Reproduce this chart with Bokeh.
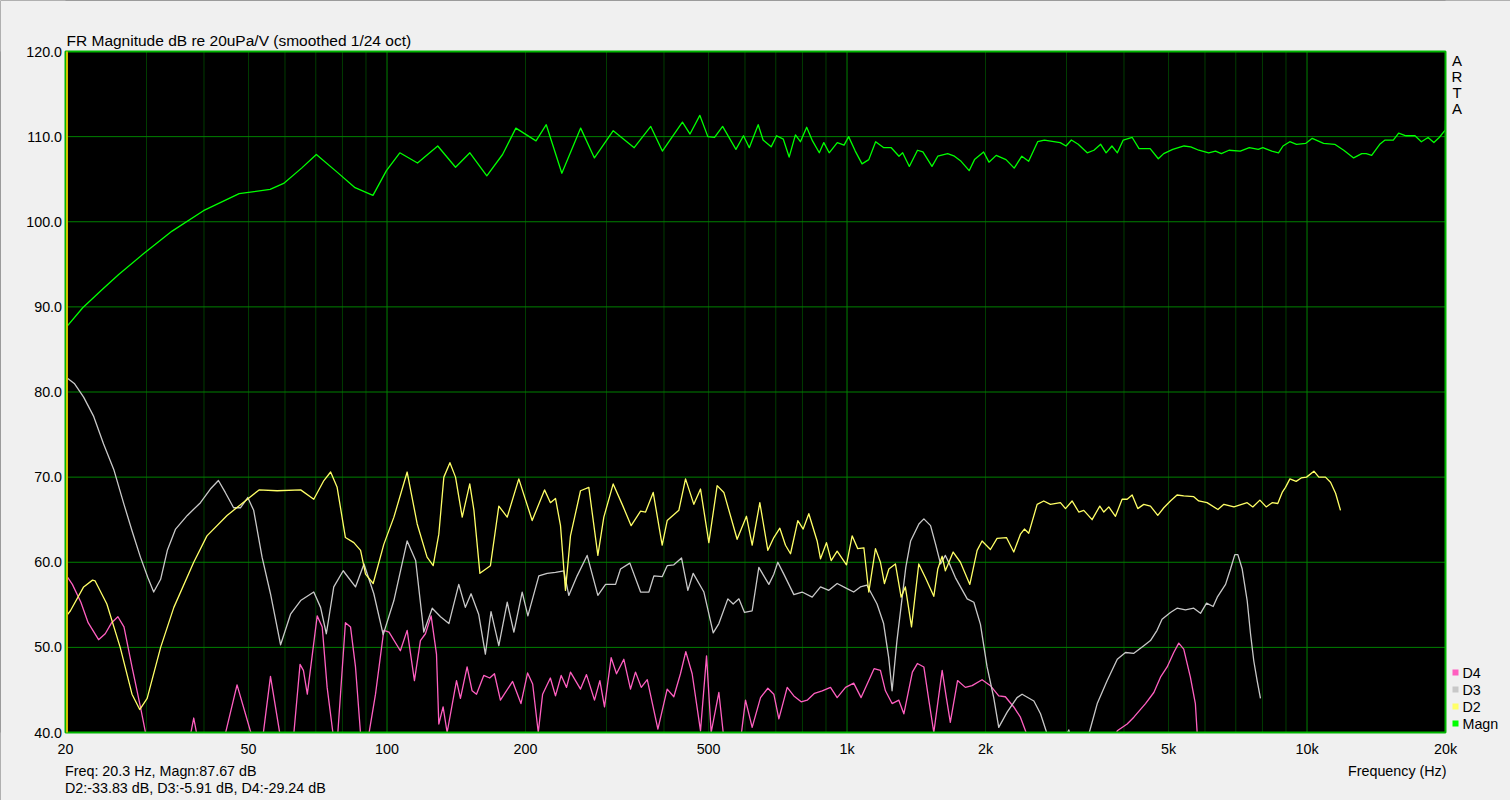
from bokeh.plotting import figure
from bokeh.models import Range1d, Grid, Label, BoxAnnotation
from bokeh.embed import file_html
from bokeh.resources import INLINE

FONT = "Liberation Sans"

# ---------------- data ----------------
title_text = "FR Magnitude dB re 20uPa/V (smoothed 1/24 oct)"
x_ticks = [20, 50, 100, 200, 500, 1000, 2000, 5000, 10000, 20000]
x_tick_labels = ["20", "50", "100", "200", "500", "1k", "2k", "5k", "10k", "20k"]
x_decades = [100, 1000, 10000]
y_ticks = [40, 50, 60, 70, 80, 90, 100, 110, 120]
y_tick_labels = ["40.0", "50.0", "60.0", "70.0", "80.0", "90.0", "100.0", "110.0", "120.0"]
legend_names = ["D4", "D3", "D2", "Magn"]
cursor_freq = 20.15
info_line1 = "Freq: 20.3 Hz, Magn:87.67 dB"
info_line2 = "D2:-33.83 dB, D3:-5.91 dB, D4:-29.24 dB"
x_title = "Frequency (Hz)"

magn_f = [20.0, 21.8, 24.1, 26.1, 29.5, 34.1, 39.9, 47.7, 55.7, 59.6,
          65.2, 70.2, 78.0, 85.2, 93.2, 99.7, 106.6, 116.5, 128.9, 140.9,
          151.4, 164.8, 178.3, 190.6, 210.8, 221.9, 239.9, 263.6, 282.4, 310.3,
          344.6, 374.4, 396.8, 438.7, 455.7, 478.6, 498.2, 515.2, 536.5, 573.4,
          595.6, 613.1, 641.0, 656.9, 684.0, 702.8, 727.0, 748.4, 772.4, 791.9,
          817.2, 841.3, 870.4, 890.2, 914.5, 952.4, 985.3, 1008, 1042, 1078,
          1115, 1154, 1202, 1248, 1297, 1321, 1366, 1423, 1462, 1530,
          1575, 1655, 1712, 1770, 1843, 1893, 1981, 2035, 2110, 2216,
          2309, 2399, 2482, 2597, 2685, 2907, 2993, 3074, 3181, 3328,
          3441, 3560, 3658, 3766, 3870, 3985, 4169, 4313, 4560, 4750,
          4880, 5106, 5402, 5587, 5818, 6113, 6325, 6513, 6766, 7160,
          7491, 7835, 8014, 8384, 8671, 8867, 9174, 9488, 9929, 10264,
          10862, 11487, 12018, 12628, 13150, 13450, 13820, 14390, 14780, 15400,
          15820, 16410, 17170, 17720, 18330, 18870, 19380, 19990, 20000]
magn_db = [87.5, 89.9, 92.1, 93.8, 96.2, 98.9, 101.3, 103.3, 103.8, 104.5,
           106.3, 107.9, 105.8, 104.0, 103.1, 106.0, 108.1, 106.9, 108.9, 106.4,
           108.1, 105.4, 107.9, 111.0, 109.5, 111.4, 105.7, 111.0, 107.5, 110.7,
           108.7, 111.2, 108.3, 111.7, 110.3, 112.5, 110.0, 109.9, 111.2, 108.5,
           110.1, 108.7, 111.4, 109.6, 108.8, 110.1, 109.7, 107.6, 110.2, 109.4,
           111.1, 109.5, 108.1, 109.3, 108.1, 109.3, 109.0, 110.0, 108.3, 106.8,
           107.3, 109.4, 108.7, 108.7, 107.7, 108.1, 106.5, 108.4, 108.2, 106.5,
           107.7, 108.0, 107.7, 107.1, 106.0, 107.3, 108.2, 107.0, 107.8, 107.3,
           106.3, 107.7, 107.1, 109.4, 109.6, 109.3, 108.9, 109.6, 109.1, 108.1,
           108.4, 109.1, 108.1, 108.9, 108.1, 109.6, 109.9, 108.6, 108.6, 107.4,
           108.0, 108.5, 108.9, 108.8, 108.4, 108.1, 108.3, 108.0, 108.4, 108.3,
           108.7, 108.5, 108.7, 108.3, 108.1, 108.9, 109.4, 109.1, 109.2, 109.8,
           109.2, 109.1, 108.4, 107.5, 108.0, 108.0, 107.8, 109.1, 109.6, 109.6,
           110.4, 110.1, 110.1, 109.4, 109.9, 109.3, 109.9, 110.8, 111.9]

d2_f = [20.1, 20.5, 21.9, 22.9, 23.2, 24.6, 26.3, 27.9, 29.0, 30.1,
        32.2, 34.4, 38.0, 40.6, 44.9, 49.7, 52.7, 57.7, 64.9, 69.3,
        72.9, 75.4, 77.9, 81.2, 84.7, 87.6, 89.8, 93.3, 98.4, 103.5,
        110.6, 116.3, 122.2, 126.0, 129.6, 132.9, 137.0, 140.9, 145.7, 151.3,
        154.5, 159.2, 167.8, 175.0, 182.5, 193.4, 206.8, 220.0, 226.6, 232.4,
        238.3, 244.3, 250.5, 263.4, 274.6, 287.3, 296.0, 310.2, 324.5, 339.4,
        355.8, 364.8, 379.0, 396.4, 406.5, 430.9, 445.6, 464.5, 480.3, 500.7,
        522.0, 539.8, 576.9, 604.5, 622.0, 646.3, 672.8, 693.2, 714.4, 734.9,
        753.6, 781.7, 802.9, 825.9, 861.0, 875.7, 902.2, 923.7, 951.8, 997.2,
        1026, 1055, 1088, 1115, 1153, 1182, 1206, 1233, 1274, 1311,
        1339, 1381, 1432, 1480, 1544, 1575, 1610, 1636, 1701, 1764,
        1849, 1918, 1966, 2050, 2119, 2221, 2304, 2382, 2430, 2483,
        2590, 2677, 2768, 2910, 2985, 3085, 3190, 3271, 3410, 3544,
        3616, 3707, 3833, 3963, 4064, 4167, 4286, 4417, 4567, 4737,
        4882, 5047, 5217, 5395, 5672, 5815, 6064, 6402, 6596, 6936,
        7411, 7623, 7898, 8151, 8397, 8638, 8831, 8978, 9178, 9471,
        9712, 9976, 10351, 10609, 10967, 11249, 11537, 11824]
d2_db = [53.7, 54.3, 57.1, 57.9, 57.8, 55.1, 50.0, 44.5, 42.7, 44.0,
         50.0, 54.7, 60.0, 63.1, 65.5, 67.4, 68.5, 68.4, 68.5, 67.4,
         69.6, 70.6, 68.8, 62.9, 62.3, 61.4, 58.6, 57.5, 62.1, 65.3,
         70.6, 64.5, 60.6, 59.6, 63.3, 70.0, 71.7, 70.0, 65.3, 69.2,
         66.1, 58.7, 59.6, 66.6, 65.3, 69.8, 64.9, 68.5, 67.0, 67.5,
         64.3, 56.7, 63.1, 68.4, 68.8, 60.8, 65.3, 69.2, 66.8, 64.3,
         66.0, 65.9, 68.2, 62.0, 64.9, 66.1, 69.8, 66.8, 68.6, 62.3,
         69.0, 68.2, 62.7, 65.4, 62.0, 67.0, 61.4, 62.9, 64.0, 62.0,
         61.0, 64.9, 63.9, 65.7, 62.5, 60.4, 62.3, 60.2, 61.3, 59.7,
         63.1, 61.6, 61.7, 56.5, 61.6, 60.0, 57.5, 59.2, 59.8, 55.9,
         57.1, 52.4, 59.8, 58.2, 56.0, 59.2, 60.7, 59.0, 61.2, 60.0,
         57.4, 61.4, 62.5, 61.5, 62.8, 62.9, 61.2, 63.3, 63.9, 63.4,
         66.8, 67.2, 66.8, 67.0, 66.3, 67.2, 65.9, 66.1, 65.0, 66.6,
         65.9, 66.5, 65.4, 67.4, 67.4, 67.9, 66.3, 66.8, 66.6, 65.5,
         66.4, 67.2, 67.9, 67.8, 67.7, 67.2, 67.0, 66.2, 66.8, 66.5,
         67.0, 66.5, 67.3, 66.5, 67.0, 66.9, 68.2, 68.8, 69.8, 69.5,
         69.9, 70.0, 70.7, 70.0, 70.0, 69.4, 68.1, 66.1]

d3_f = [20.0, 20.9, 21.9, 23.0, 24.2, 25.5, 26.8, 27.9, 29.1, 30.2,
        31.1, 32.2, 33.3, 34.7, 36.8, 39.3, 41.3, 43.0, 44.5, 46.4,
        48.0, 49.8, 51.3, 53.5, 55.8, 58.7, 61.7, 64.9, 69.3, 71.7,
        73.8, 76.6, 80.3, 85.4, 89.1, 93.6, 98.1, 103.5, 110.6, 115.4,
        120.2, 125.4, 130.7, 136.3, 143.2, 148.0, 152.3, 158.2, 163.6, 168.3,
        175.0, 182.5, 188.7, 196.7, 202.4, 213.8, 222.9, 232.4, 242.3, 248.4,
        259.0, 272.3, 287.3, 298.6, 313.9, 321.8, 337.2, 355.8, 370.9, 380.3,
        396.4, 406.5, 420.2, 436.7, 450.8, 463.0, 488.5, 511.8, 526.5, 550.7,
        565.6, 582.0, 598.7, 622.0, 643.1, 659.4, 676.2, 693.2, 707.2, 728.8,
        766.3, 798.7, 840.0, 875.7, 913.0, 951.8, 1000, 1034, 1069, 1105,
        1162, 1201, 1232, 1253, 1284, 1342, 1375, 1433, 1469, 1519,
        1558, 1597, 1636, 1677, 1720, 1825, 1887, 1950, 2016, 2084,
        2137, 2229, 2342, 2402, 2548, 2634, 2724, 2870, 3034, 3150,
        3354, 3499, 3678, 3868, 4030, 4203, 4417, 4567, 4720, 4840,
        5047, 5217, 5440, 5672, 5868, 6047, 6251, 6381, 6651, 6818,
        6967, 7074, 7229, 7411, 7536, 7661, 7790, 7921]
d3_db = [81.8, 81.0, 79.4, 77.2, 73.9, 70.8, 66.8, 63.7, 60.6, 58.2,
         56.5, 58.0, 61.4, 63.9, 65.5, 67.0, 68.6, 69.6, 68.2, 66.4,
         66.4, 67.6, 66.1, 60.6, 56.3, 50.3, 53.9, 55.5, 56.5, 54.7,
         51.6, 57.1, 59.0, 57.1, 59.8, 56.3, 51.5, 55.5, 62.5, 60.2,
         51.8, 54.6, 53.6, 52.8, 57.4, 54.7, 56.3, 53.9, 49.2, 54.2,
         50.2, 55.3, 51.8, 56.5, 53.7, 58.4, 58.7, 58.8, 59.0, 56.1,
         58.4, 60.8, 56.1, 57.4, 57.4, 59.2, 59.9, 56.5, 56.5, 58.4,
         58.3, 59.6, 59.7, 60.5, 56.7, 58.7, 56.5, 51.7, 52.8, 55.7,
         55.1, 55.7, 54.1, 54.3, 59.4, 58.4, 57.4, 58.6, 60.0, 58.6,
         56.2, 56.5, 55.9, 57.1, 56.7, 57.5, 56.9, 56.5, 57.1, 57.3,
         55.1, 52.8, 48.8, 44.9, 50.8, 59.4, 62.5, 64.5, 65.1, 64.3,
         62.1, 59.8, 60.8, 59.6, 58.2, 55.7, 55.3, 52.7, 47.7, 44.1,
         40.6, 42.4, 44.1, 44.5, 43.7, 42.2, 39.8, 37.5, 40.3, 37.5,
         39.8, 43.4, 46.1, 48.6, 49.4, 49.3, 50.2, 50.8, 52.0, 53.3,
         54.1, 54.6, 54.4, 54.6, 54.0, 55.2, 54.8, 55.9, 57.4, 59.2,
         60.9, 60.9, 59.2, 55.5, 51.6, 48.4, 46.1, 44.0]

d4_f = [20.0, 20.7, 21.6, 22.4, 23.6, 24.4, 25.2, 26.0, 26.8, 27.9,
        29.1, 29.8, 30.6, 34.0, 37.0, 38.0, 39.0, 41.0, 43.5, 44.5,
        47.2, 50.7, 52.0, 53.8, 55.8, 58.5, 60.5, 62.7, 64.7, 65.8,
        67.1, 70.5, 72.3, 74.1, 77.5, 81.2, 83.3, 85.4, 87.6, 89.5,
        91.3, 94.4, 98.4, 101.0, 106.9, 110.6, 114.7, 118.2, 121.2, 124.7,
        128.1, 129.6, 132.4, 135.1, 141.6, 144.4, 149.3, 153.1, 156.5, 162.3,
        167.2, 171.2, 176.4, 187.5, 195.5, 202.1, 207.3, 213.2, 217.9, 226.5,
        232.4, 239.1, 245.6, 250.5, 263.4, 271.4, 282.5, 290.2, 297.0, 307.1,
        315.4, 327.2, 338.3, 346.8, 357.0, 367.9, 388.0, 406.5, 420.2, 434.4,
        446.2, 460.6, 480.3, 495.0, 506.6, 526.5, 538.0, 560.0, 585.0, 601.6,
        622.0, 648.6, 672.8, 693.2, 710.9, 741.2, 766.3, 794.9, 819.2, 849.8,
        883.1, 920.6, 951.8, 992.6, 1034, 1073, 1145, 1182, 1212, 1253,
        1296, 1329, 1387, 1422, 1469, 1506, 1544, 1610, 1645, 1677,
        1739, 1808, 1870, 1966, 2050, 2137, 2209, 2304, 2382, 2443,
        2550, 3700, 3868, 4064, 4203, 4455, 4645, 4802, 4965, 5132,
        5262, 5395, 5577, 5718, 5800]
d4_db = [58.6, 57.4, 55.3, 52.9, 50.9, 51.6, 52.9, 53.6, 52.4, 47.7,
         43.0, 40.2, 36.0, 34.0, 38.5, 41.7, 38.5, 35.0, 36.0, 39.8,
         45.6, 39.8, 36.0, 39.8, 46.6, 39.8, 36.0, 39.8, 48.0, 47.3,
         44.5, 53.7, 52.4, 45.3, 37.0, 52.9, 52.4, 47.7, 39.8, 37.0,
         39.8, 44.5, 52.0, 51.8, 49.6, 52.0, 46.1, 50.8, 51.6, 53.7,
         49.2, 41.0, 43.0, 40.0, 46.1, 44.0, 47.7, 44.9, 44.5, 46.7,
         46.4, 46.9, 43.8, 46.0, 43.4, 47.0, 45.7, 40.0, 44.5, 46.4,
         44.3, 46.7, 45.3, 47.1, 45.1, 46.8, 43.8, 46.1, 43.0, 48.8,
         46.9, 48.6, 45.1, 47.1, 45.3, 46.2, 40.4, 45.1, 44.2, 46.9,
         49.5, 46.9, 40.2, 49.0, 40.0, 44.7, 40.0, 36.0, 38.5, 43.8,
         40.6, 44.1, 45.2, 44.5, 41.6, 45.3, 44.3, 43.6, 43.8, 44.6,
         44.9, 45.3, 44.1, 45.3, 45.8, 44.1, 47.5, 47.3, 44.9, 43.4,
         43.8, 42.2, 47.1, 48.1, 47.7, 43.8, 40.0, 47.3, 44.0, 41.2,
         46.1, 45.3, 45.5, 46.2, 45.5, 44.3, 44.2, 43.0, 41.8, 40.2,
         37.0, 37.0, 40.2, 41.0, 41.8, 43.4, 44.7, 46.5, 47.7, 49.4,
         50.5, 49.8, 46.5, 43.4, 38.0]

# ---------------- layout (pixels) ----------------
W, H = 1510, 800
PL, PR, PT, PB = 65, 1445, 51, 732          # plot-area edges on the page
X0, X1 = x_ticks[0], x_ticks[-1]
Y0, Y1 = y_ticks[0], y_ticks[-1]
px_dec = (PR - PL) / 3.0                     # 3 decades 20 .. 20k
px_db = (PB - PT) / float(Y1 - Y0)
xr0 = X0 / 10 ** (PL / px_dec)
xr1 = X1 * 10 ** ((W - PR) / px_dec)
yr0 = Y0 - (H - PB) / px_db
yr1 = Y1 + PT / px_db

C_BG = "#f0f0f0"
C_MAGN = "#00ff00"
C_D2 = "#ffff66"
C_D3 = "#c8c8c8"
C_D4 = "#ff5fc0"
C_GRID = "#008000"
C_GRID_MINOR = "#003c00"
C_FRAME = "#00b400"

p = figure(width=W, height=H, x_axis_type="log", x_axis_location=None, y_axis_location=None,
           x_range=Range1d(xr0, xr1), y_range=Range1d(yr0, yr1),
           output_backend="svg", toolbar_location=None, min_border=0,
           background_fill_color="black", border_fill_color=C_BG, outline_line_color=None)
# drop the default grids; the grid is drawn below with segments
p.center = [r for r in p.center if not isinstance(r, Grid)]
p.renderers = [r for r in p.renderers if not isinstance(r, Grid)]

minor = [m * 10 ** k for k in range(1, 5) for m in range(1, 10)
         if X0 <= m * 10 ** k <= X1 and m * 10 ** k not in x_decades]
p.segment(x0=minor, x1=minor, y0=[Y0] * len(minor), y1=[Y1] * len(minor),
          line_color=C_GRID_MINOR, line_width=1)
p.segment(x0=x_decades, x1=x_decades, y0=[Y0] * 3, y1=[Y1] * 3,
          line_color=C_GRID, line_width=1)
p.segment(x0=[X0] * len(y_ticks), x1=[X1] * len(y_ticks), y0=y_ticks, y1=y_ticks,
          line_color=C_GRID, line_width=1)

# curves
for fx, dy, col in ((d4_f, d4_db, C_D4), (d3_f, d3_db, C_D3),
                    (d2_f, d2_db, C_D2), (magn_f, magn_db, C_MAGN)):
    p.line(fx, dy, line_color=col, line_width=1.3, line_join="round")

# grey surround masking everything outside the plot area (overlapping, no seams)
p.quad(left=[xr0, xr0, xr0, X1], right=[xr1, xr1, X0, xr1],
       bottom=[yr0, Y1, yr0, yr0], top=[Y0, yr1, yr1, yr1],
       fill_color=C_BG, line_color=None)
# plot-area border and cursor
p.quad(left=[X0], right=[X1], bottom=[Y0], top=[Y1], fill_color=None,
       line_color=C_FRAME, line_width=2)
p.segment(x0=[cursor_freq], x1=[cursor_freq], y0=[Y0], y1=[Y1], line_color="#d4c000", line_width=2)


def lab(x, y, text, align="left", size="14.3px", xu="screen", yu="screen"):
    p.add_layout(Label(x=x, y=y, x_units=xu, y_units=yu, text=text,
                       text_font=FONT, text_font_size=size, text_color="black",
                       text_align=align, text_baseline="middle"))


# screen units: pixels from the bottom-left corner of the canvas (y = H - page_y)
lab(66, H - 39.5, title_text, size="15.5px")
for t, s in zip(y_ticks, y_tick_labels):
    lab(61.5, t, s, align="right", yu="data")
for t, s in zip(x_ticks, x_tick_labels):
    lab(t, H - 748, s, align="center", xu="data")
for i, ch in enumerate("ARTA"):
    lab(1456.5, H - (60 + 16 * i), ch, align="center", size="15px")
lab(64.5, H - 770, info_line1)
lab(64.5, H - 787, info_line2)
lab(1446, H - 770.5, x_title, align="right")

leg_colors = [C_D4, C_D3, C_D2, C_MAGN]
for i, (name, col) in enumerate(zip(legend_names, leg_colors)):
    base = 678 + 17 * i
    p.add_layout(BoxAnnotation(left=1452, right=1458, top=H - (base - 9), bottom=H - (base - 3),
                               left_units="screen", right_units="screen",
                               bottom_units="screen", top_units="screen",
                               fill_color=col, fill_alpha=1.0, line_color=None))
    lab(1462, H - (672.7 + 17 * i), name)

open("out.html", "w").write(file_html(p, INLINE))
